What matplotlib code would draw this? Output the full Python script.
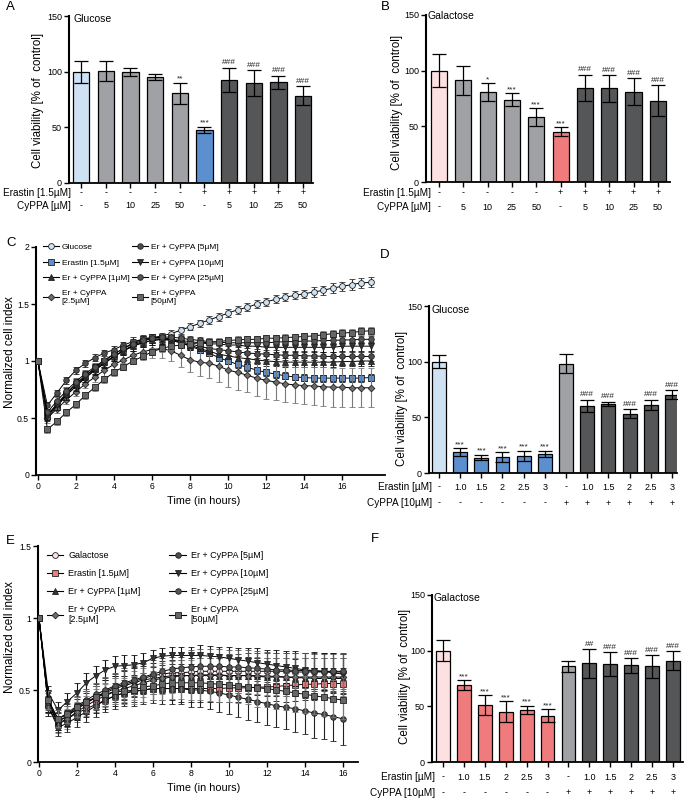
import matplotlib
matplotlib.use("Agg")
import matplotlib.pyplot as plt
from matplotlib.lines import Line2D

plt.rcParams['font.family'] = ['Liberation Sans', 'DejaVu Sans']

# ---------------- data ----------------
# Panel A (glucose)
A_erastin = ["-", "-", "-", "-", "-", "+", "+", "+", "+", "+"]
A_cyppa = ["-", "5", "10", "25", "50", "-", "5", "10", "25", "50"]
A_vals = [100, 101, 99.5, 95, 80.5, 47.5, 92.5, 90, 90.5, 78.5]
A_errs = [10, 9, 3.5, 2.5, 9.5, 3, 11, 11.5, 6, 8.5]
A_marks = ["", "", "", "", "**", "***", "###", "###", "###", "###"]

# Panel B (galactose)
B_erastin = A_erastin
B_cyppa = A_cyppa
B_vals = [100, 91.5, 81, 74, 58.5, 45, 84.5, 84, 81, 73]
B_errs = [15, 13, 8, 5.5, 8, 4, 12, 12, 12, 14]
B_marks = ["", "", "*", "***", "***", "***", "###", "###", "###", "###"]

# Panel D (glucose)
D_erastin = ["-", "1.0", "1.5", "2", "2.5", "3", "-", "1.0", "1.5", "2", "2.5", "3"]
D_cyppa = ["-", "-", "-", "-", "-", "-", "+", "+", "+", "+", "+", "+"]
D_vals = [100, 19, 13.8, 14, 15.5, 17, 98, 60.5, 62, 53.2, 61.2, 70.3]
D_errs = [6, 3.5, 2.5, 4.5, 4.5, 3, 8.5, 5.5, 2, 4, 4.5, 4]
D_marks = ["", "***", "***", "***", "***", "***", "", "###", "###", "###", "###", "###"]

# Panel F (galactose)
F_erastin = D_erastin
F_cyppa = D_cyppa
F_vals = [100, 69, 51.2, 45.3, 47, 41.7, 86, 88.5, 87.8, 86.8, 85.8, 90.8]
F_errs = [9.5, 4.5, 9, 9.5, 3.5, 6, 5, 13, 11, 6.5, 10, 8.5]
F_marks = ["", "***", "***", "***", "***", "***", "", "##", "###", "###", "###", "###"]

# Panel C (glucose, time course)
C_time = [0, 0.5, 1, 1.5, 2, 2.5, 3, 3.5, 4, 4.5, 5, 5.5, 6, 6.5, 7, 7.5, 8, 8.5,
          9, 9.5, 10, 10.5, 11, 11.5, 12, 12.5, 13, 13.5, 14, 14.5, 15, 15.5, 16,
          16.5, 17, 17.5]
C_glc = [1.00, 0.50, 0.60, 0.70, 0.78, 0.85, 0.92, 0.98, 1.04, 1.09, 1.14, 1.17,
         1.20, 1.22, 1.24, 1.27, 1.30, 1.33, 1.36, 1.39, 1.42, 1.45, 1.47, 1.50,
         1.52, 1.54, 1.56, 1.575, 1.59, 1.605, 1.62, 1.64, 1.655, 1.67, 1.685, 1.69]
C_glc_err = [0.0, 0.03, 0.03, 0.03, 0.03, 0.03, 0.03, 0.03, 0.03, 0.03, 0.03, 0.03,
             0.03, 0.03, 0.03, 0.03, 0.03, 0.03, 0.035, 0.035, 0.035, 0.035, 0.035,
             0.035, 0.035, 0.035, 0.035, 0.035, 0.035, 0.04, 0.04, 0.04, 0.04, 0.045,
             0.045, 0.045]
C_era = [1.00, 0.52, 0.62, 0.71, 0.80, 0.87, 0.94, 1.00, 1.06, 1.11, 1.16, 1.19,
         1.21, 1.21, 1.19, 1.16, 1.13, 1.10, 1.07, 1.03, 1.00, 0.97, 0.945, 0.92,
         0.90, 0.885, 0.87, 0.86, 0.855, 0.85, 0.85, 0.85, 0.85, 0.85, 0.85, 0.855]
C_era_err = [0.0, 0.03, 0.03, 0.03, 0.03, 0.03, 0.03, 0.03, 0.03, 0.03, 0.03, 0.03,
             0.03, 0.03, 0.03, 0.03, 0.03, 0.03, 0.03, 0.03, 0.03, 0.03, 0.03, 0.03,
             0.03, 0.03, 0.03, 0.03, 0.03, 0.03, 0.03, 0.03, 0.03, 0.03, 0.03, 0.03]
C_c1 = [1.00, 0.53, 0.62, 0.72, 0.80, 0.87, 0.93, 0.99, 1.04, 1.09, 1.13, 1.16,
        1.18, 1.19, 1.18, 1.16, 1.14, 1.11, 1.085, 1.06, 1.045, 1.03, 1.02, 1.01,
        1.00, 0.995, 0.99, 0.99, 0.99, 0.99, 0.99, 0.99, 0.995, 0.995, 1.00, 1.00]
C_c1_err = [0.0, 0.04, 0.04, 0.04, 0.04, 0.04, 0.04, 0.04, 0.04, 0.04, 0.04, 0.04,
            0.04, 0.04, 0.04, 0.04, 0.04, 0.04, 0.04, 0.04, 0.04, 0.04, 0.04, 0.04,
            0.04, 0.04, 0.04, 0.04, 0.04, 0.04, 0.04, 0.04, 0.04, 0.04, 0.04, 0.04]
C_c25 = [1.00, 0.50, 0.58, 0.66, 0.73, 0.80, 0.86, 0.92, 0.97, 1.01, 1.05, 1.08,
         1.10, 1.11, 1.09, 1.05, 1.01, 0.99, 0.98, 0.955, 0.92, 0.90, 0.875, 0.85,
         0.83, 0.815, 0.80, 0.79, 0.785, 0.78, 0.775, 0.77, 0.77, 0.765, 0.765, 0.765]
C_c25_err = [0.0, 0.04, 0.04, 0.04, 0.04, 0.04, 0.04, 0.05, 0.05, 0.05, 0.06, 0.06,
             0.07, 0.08, 0.09, 0.10, 0.11, 0.12, 0.13, 0.14, 0.15, 0.15, 0.15, 0.16,
             0.16, 0.16, 0.16, 0.16, 0.16, 0.17, 0.17, 0.17, 0.17, 0.17, 0.17, 0.17]
C_c5 = [1.00, 0.61, 0.72, 0.83, 0.92, 0.98, 1.03, 1.07, 1.10, 1.14, 1.17, 1.19,
        1.20, 1.20, 1.19, 1.17, 1.15, 1.13, 1.11, 1.10, 1.09, 1.08, 1.07, 1.065,
        1.06, 1.055, 1.05, 1.05, 1.045, 1.045, 1.04, 1.04, 1.04, 1.04, 1.04, 1.04]
C_c5_err = [0.0, 0.03, 0.03, 0.03, 0.03, 0.03, 0.03, 0.03, 0.03, 0.03, 0.04, 0.04,
            0.04, 0.04, 0.04, 0.04, 0.04, 0.04, 0.04, 0.04, 0.04, 0.04, 0.04, 0.04,
            0.04, 0.04, 0.04, 0.04, 0.04, 0.04, 0.04, 0.04, 0.04, 0.04, 0.04, 0.04]
C_c10 = [1.00, 0.52, 0.61, 0.70, 0.78, 0.86, 0.92, 0.98, 1.04, 1.09, 1.13, 1.16,
         1.18, 1.19, 1.19, 1.18, 1.17, 1.16, 1.15, 1.15, 1.14, 1.14, 1.13, 1.13,
         1.12, 1.12, 1.12, 1.12, 1.12, 1.12, 1.12, 1.12, 1.13, 1.13, 1.13, 1.13]
C_c10_err = [0.0, 0.04, 0.04, 0.04, 0.04, 0.04, 0.04, 0.04, 0.04, 0.04, 0.04, 0.04,
             0.04, 0.04, 0.04, 0.04, 0.04, 0.04, 0.04, 0.04, 0.04, 0.04, 0.04, 0.04,
             0.04, 0.04, 0.04, 0.04, 0.04, 0.04, 0.04, 0.04, 0.04, 0.04, 0.04, 0.04]
C_c25b = [1.00, 0.55, 0.65, 0.74, 0.82, 0.89, 0.95, 1.01, 1.06, 1.11, 1.15, 1.18,
          1.20, 1.21, 1.21, 1.20, 1.19, 1.18, 1.17, 1.165, 1.16, 1.16, 1.16, 1.16,
          1.16, 1.165, 1.17, 1.17, 1.175, 1.175, 1.18, 1.18, 1.185, 1.185, 1.19, 1.19]
C_c25b_err = [0.0, 0.03, 0.03, 0.03, 0.03, 0.03, 0.03, 0.03, 0.03, 0.03, 0.03, 0.03,
              0.03, 0.03, 0.03, 0.03, 0.03, 0.03, 0.03, 0.03, 0.03, 0.03, 0.03, 0.03,
              0.03, 0.03, 0.03, 0.03, 0.03, 0.03, 0.03, 0.03, 0.03, 0.03, 0.03, 0.03]
C_c50 = [1.00, 0.40, 0.47, 0.55, 0.62, 0.70, 0.77, 0.84, 0.90, 0.95, 1.00, 1.04,
         1.08, 1.11, 1.13, 1.14, 1.15, 1.16, 1.165, 1.17, 1.18, 1.185, 1.19, 1.19,
         1.20, 1.20, 1.205, 1.21, 1.215, 1.22, 1.23, 1.24, 1.245, 1.25, 1.26, 1.265]
C_c50_err = [0.0, 0.03, 0.03, 0.03, 0.03, 0.03, 0.03, 0.03, 0.03, 0.03, 0.03, 0.03,
             0.03, 0.03, 0.03, 0.03, 0.03, 0.03, 0.03, 0.03, 0.03, 0.03, 0.03, 0.03,
             0.03, 0.03, 0.03, 0.03, 0.03, 0.03, 0.03, 0.03, 0.035, 0.035, 0.035, 0.035]

# Panel E (galactose, time course)
E_time = [0, 0.5, 1, 1.5, 2, 2.5, 3, 3.5, 4, 4.5, 5, 5.5, 6, 6.5, 7, 7.5, 8, 8.5,
          9, 9.5, 10, 10.5, 11, 11.5, 12, 12.5, 13, 13.5, 14, 14.5, 15, 15.5, 16]
E_gal = [1.00, 0.42, 0.28, 0.32, 0.37, 0.41, 0.45, 0.49, 0.52, 0.54, 0.56, 0.58,
         0.60, 0.61, 0.62, 0.62, 0.625, 0.63, 0.63, 0.63, 0.63, 0.63, 0.63, 0.63,
         0.63, 0.63, 0.63, 0.625, 0.625, 0.625, 0.625, 0.625, 0.625]
E_gal_err = [0.0, 0.07, 0.07, 0.08, 0.08, 0.08, 0.09, 0.09, 0.09, 0.10, 0.10, 0.10,
             0.11, 0.11, 0.11, 0.11, 0.12, 0.12, 0.12, 0.12, 0.12, 0.12, 0.13, 0.13,
             0.13, 0.13, 0.13, 0.13, 0.13, 0.13, 0.13, 0.13, 0.13]
E_era = [1.00, 0.40, 0.27, 0.30, 0.34, 0.37, 0.40, 0.43, 0.46, 0.48, 0.49, 0.50,
         0.51, 0.51, 0.51, 0.51, 0.51, 0.51, 0.51, 0.51, 0.515, 0.515, 0.515, 0.52,
         0.52, 0.525, 0.53, 0.535, 0.54, 0.54, 0.545, 0.545, 0.545]
E_era_err = [0.0, 0.05, 0.05, 0.05, 0.05, 0.06, 0.06, 0.06, 0.07, 0.07, 0.07, 0.08,
             0.08, 0.08, 0.08, 0.09, 0.09, 0.09, 0.09, 0.09, 0.10, 0.10, 0.10, 0.10,
             0.10, 0.10, 0.11, 0.11, 0.11, 0.11, 0.11, 0.11, 0.11]
E_c1 = [1.00, 0.40, 0.28, 0.32, 0.37, 0.41, 0.45, 0.48, 0.51, 0.53, 0.55, 0.57,
        0.58, 0.59, 0.60, 0.60, 0.60, 0.60, 0.60, 0.60, 0.60, 0.60, 0.60, 0.595,
        0.59, 0.59, 0.59, 0.585, 0.585, 0.58, 0.58, 0.58, 0.58]
E_c1_err = [0.0, 0.06, 0.06, 0.07, 0.07, 0.08, 0.08, 0.09, 0.09, 0.10, 0.10, 0.10,
            0.11, 0.11, 0.11, 0.11, 0.12, 0.12, 0.12, 0.12, 0.12, 0.12, 0.13, 0.13,
            0.13, 0.13, 0.13, 0.13, 0.14, 0.14, 0.14, 0.14, 0.14]
E_c25 = [1.00, 0.38, 0.26, 0.30, 0.35, 0.39, 0.43, 0.46, 0.49, 0.51, 0.53, 0.55,
         0.57, 0.58, 0.59, 0.60, 0.60, 0.605, 0.605, 0.605, 0.60, 0.60, 0.60, 0.60,
         0.595, 0.595, 0.59, 0.59, 0.59, 0.59, 0.59, 0.59, 0.59]
E_c25_err = [0.0, 0.06, 0.06, 0.07, 0.07, 0.07, 0.08, 0.08, 0.09, 0.09, 0.10, 0.10,
             0.10, 0.11, 0.11, 0.11, 0.11, 0.12, 0.12, 0.12, 0.12, 0.12, 0.12, 0.13,
             0.13, 0.13, 0.13, 0.13, 0.13, 0.13, 0.13, 0.13, 0.13]
E_c5 = [1.00, 0.38, 0.24, 0.27, 0.31, 0.35, 0.39, 0.43, 0.46, 0.48, 0.49, 0.50,
        0.51, 0.51, 0.51, 0.51, 0.50, 0.50, 0.49, 0.48, 0.465, 0.45, 0.435, 0.42,
        0.405, 0.39, 0.38, 0.37, 0.355, 0.34, 0.33, 0.315, 0.30]
E_c5_err = [0.0, 0.06, 0.06, 0.06, 0.07, 0.07, 0.08, 0.08, 0.09, 0.09, 0.10, 0.10,
            0.10, 0.11, 0.11, 0.11, 0.12, 0.12, 0.12, 0.13, 0.13, 0.14, 0.14, 0.14,
            0.15, 0.15, 0.15, 0.16, 0.16, 0.17, 0.17, 0.17, 0.18]
E_c10 = [1.00, 0.48, 0.36, 0.42, 0.48, 0.55, 0.60, 0.64, 0.665, 0.67, 0.675, 0.69,
         0.72, 0.735, 0.74, 0.74, 0.74, 0.74, 0.735, 0.73, 0.72, 0.71, 0.70, 0.69,
         0.68, 0.67, 0.66, 0.65, 0.64, 0.635, 0.63, 0.62, 0.61]
E_c10_err = [0.0, 0.05, 0.06, 0.06, 0.07, 0.07, 0.07, 0.07, 0.07, 0.07, 0.07, 0.07,
             0.06, 0.06, 0.06, 0.06, 0.06, 0.07, 0.07, 0.07, 0.08, 0.08, 0.09, 0.10,
             0.10, 0.11, 0.11, 0.12, 0.12, 0.13, 0.13, 0.14, 0.14]
E_c25b = [1.00, 0.42, 0.30, 0.34, 0.39, 0.43, 0.47, 0.50, 0.53, 0.55, 0.57, 0.59,
          0.61, 0.63, 0.645, 0.655, 0.66, 0.665, 0.665, 0.665, 0.66, 0.66, 0.655,
          0.65, 0.645, 0.64, 0.64, 0.635, 0.635, 0.63, 0.63, 0.63, 0.63]
E_c25b_err = [0.0, 0.06, 0.06, 0.07, 0.07, 0.08, 0.08, 0.09, 0.09, 0.10, 0.10, 0.10,
              0.11, 0.11, 0.11, 0.11, 0.12, 0.12, 0.12, 0.12, 0.12, 0.12, 0.12, 0.12,
              0.12, 0.12, 0.12, 0.12, 0.12, 0.12, 0.12, 0.12, 0.12]
E_c50 = [1.00, 0.43, 0.30, 0.33, 0.38, 0.42, 0.45, 0.47, 0.49, 0.49, 0.50, 0.52,
         0.53, 0.54, 0.55, 0.55, 0.55, 0.55, 0.545, 0.54, 0.535, 0.53, 0.52, 0.515,
         0.51, 0.50, 0.49, 0.48, 0.47, 0.46, 0.45, 0.44, 0.43]
E_c50_err = [0.0, 0.06, 0.06, 0.06, 0.07, 0.07, 0.08, 0.08, 0.09, 0.09, 0.10, 0.10,
             0.10, 0.11, 0.11, 0.11, 0.12, 0.12, 0.12, 0.12, 0.12, 0.12, 0.12, 0.13,
             0.13, 0.13, 0.13, 0.13, 0.13, 0.13, 0.13, 0.13, 0.13]

C_labels = ["Glucose", "Erastin [1.5µM]", "Er + CyPPA [1µM]", "Er + CyPPA\n[2.5µM]",
            "Er + CyPPA [5µM]", "Er + CyPPA [10µM]", "Er + CyPPA [25µM]", "Er + CyPPA\n[50µM]"]
E_labels = ["Galactose"] + C_labels[1:]

# ---------------- styles ----------------
LBLUE, BLUE = '#cfe2f3', '#5b8fcd'
LPINK, RED = '#fde1e2', '#f07b7d'
GREY, DARK = '#a0a1a5', '#555658'

W, H = 685, 799
fig = plt.figure(figsize=(W / 100, H / 100), dpi=100)


def pax(l, t, r, b):
    return fig.add_axes([l / W, 1 - b / H, (r - l) / W, (b - t) / H])


def ftext(x, y, s, **kw):
    fig.text(x / W, 1 - y / H, s, **kw)


def style_axes(ax):
    for s in ('top', 'right'):
        ax.spines[s].set_visible(False)
    ax.spines['left'].set_linewidth(1.5)
    ax.spines['bottom'].set_linewidth(1.3)
    ax.tick_params(axis='both', direction='out', length=3.5, width=1.0,
                   labelsize=6.5, pad=1.5)


def bar_panel(box, xlim, vals, errs, colors, marks, row1, row2, rowy, rowlabs,
              rowlab_x):
    l, t, r, b = box
    ax = pax(l, t, r, b)
    x = list(range(len(vals)))
    ax.bar(x, vals, width=0.66, color=colors, edgecolor='black', linewidth=0.9,
           zorder=2)
    ax.errorbar(x, vals, yerr=errs, fmt='none', ecolor='black', elinewidth=0.9,
                capsize=5, capthick=0.9, zorder=3)
    for xi, v, e, m in zip(x, vals, errs, marks):
        if m:
            off = 0.0 if m.startswith('*') else 1.0
            ax.annotate(m, (xi, v + e), xytext=(0, off), textcoords='offset points',
                        ha='center', va='bottom', fontsize=6, color='#222222')
    ax.set_xlim(*xlim)
    ax.set_ylim(0, 150)
    ax.set_yticks([0, 50, 100, 150])
    ax.set_xticks(x)
    ax.set_xticklabels([])
    style_axes(ax)
    hpx = b - t
    for row, ypx in zip((row1, row2), rowy):
        for xi, s in zip(x, row):
            ax.text(xi, (b - ypx) / hpx, s, transform=ax.get_xaxis_transform(),
                    ha='center', va='center', fontsize=6.5)
    for s, ypx in zip(rowlabs, rowy):
        ftext(rowlab_x, ypx, s, ha='right', va='center', fontsize=7.2)
    return ax


# Panel A
bar_panel((69, 16, 313, 183), (-0.49, 9.4), A_vals, A_errs,
          [LBLUE] + [GREY] * 4 + [BLUE] + [DARK] * 4, A_marks,
          A_erastin, A_cyppa, (193, 206), ("Erastin [1.5µM]", "CyPPA [µM]"), 71)
# Panel B
bar_panel((426, 15, 670, 182), (-0.53, 9.5), B_vals, B_errs,
          [LPINK] + [GREY] * 4 + [RED] + [DARK] * 4, B_marks,
          B_erastin, B_cyppa, (193, 207), ("Erastin [1.5µM]", "CyPPA [µM]"), 431)
# Panel D
bar_panel((429, 306, 677, 473), (-0.47, 11.24), D_vals, D_errs,
          [LBLUE] + [BLUE] * 5 + [GREY] + [DARK] * 5, D_marks,
          D_erastin, D_cyppa, (487, 503), ("Erastin [µM]", "CyPPA [10µM]"), 432)
# Panel F
bar_panel((432, 595, 683, 762), (-0.53, 11.48), F_vals, F_errs,
          [LPINK] + [RED] * 5 + [GREY] + [DARK] * 5, F_marks,
          F_erastin, F_cyppa, (777, 793), ("Erastin [µM]", "CyPPA [10µM]"), 435)

# titles inside bar panels
ftext(74, 19, "Glucose", ha='left', va='center', fontsize=7.5)
ftext(428, 16, "Galactose", ha='left', va='center', fontsize=7.5)
ftext(432, 310, "Glucose", ha='left', va='center', fontsize=7.5)
ftext(433, 598, "Galactose", ha='left', va='center', fontsize=7.5)

ylab = "Cell viability [% of  control]"
ftext(38, 100, ylab, rotation=90, ha='center', va='center', fontsize=8.3)
ftext(397, 102, ylab, rotation=90, ha='center', va='center', fontsize=8.3)
ftext(402, 398, ylab, rotation=90, ha='center', va='center', fontsize=8.3)
ftext(405, 676, ylab, rotation=90, ha='center', va='center', fontsize=8.3)


def line_panel(box, xlim, ylim, yticks, t, series, labels, ctrl_color, era_color,
               leg_anchor, leg_kw):
    l, tp, r, b = box
    ax = pax(l, tp, r, b)
    styles = [
        dict(marker='o', mfc=ctrl_color, ms=4.2, ecol='#333333'),
        dict(marker='s', mfc=era_color, ms=4.0, ecol='#111111'),
        dict(marker='^', mfc='#333333', ms=4.0, ecol='#111111'),
        dict(marker='D', mfc='#6d6d6d', ms=3.4, ecol='#7a7a7a'),
        dict(marker='o', mfc='#4d4d4d', ms=4.0, ecol='#222222'),
        dict(marker='v', mfc='#333333', ms=4.0, ecol='#111111'),
        dict(marker='o', mfc='#555555', ms=4.0, ecol='#555555'),
        dict(marker='s', mfc='#666666', ms=4.2, ecol='#777777'),
    ]
    order = [3, 7, 6, 5, 4, 2, 1, 0]
    for i in order:
        y, e = series[i]
        st = styles[i]
        ax.errorbar(t, y, yerr=e, fmt='-', marker=st['marker'], ms=st['ms'],
                    mfc=st['mfc'], mec='#222222', mew=0.6, color='black', lw=0.7,
                    ecolor=st['ecol'], elinewidth=0.8, capsize=2.3, capthick=0.8,
                    zorder=3 + i * 0.1)
    handles = [Line2D([], [], color='black', lw=0.8, marker=st['marker'],
                      ms=st['ms'], mfc=st['mfc'], mec='#222222', mew=0.6)
               for st in styles]
    ax.legend(handles, labels, ncol=2, loc='upper left', bbox_to_anchor=leg_anchor,
              frameon=False, borderaxespad=0, borderpad=0, **leg_kw)
    ax.set_xlim(*xlim)
    ax.set_ylim(*ylim)
    ax.set_yticks(yticks)
    ax.set_yticklabels([f"{v:g}" for v in yticks])
    ax.set_xticks([0, 2, 4, 6, 8, 10, 12, 14, 16])
    style_axes(ax)
    ax.tick_params(labelsize=6.2)
    return ax


C_series = [(C_glc, C_glc_err), (C_era, C_era_err), (C_c1, C_c1_err),
            (C_c25, C_c25_err), (C_c5, C_c5_err), (C_c10, C_c10_err),
            (C_c25b, C_c25b_err), (C_c50, C_c50_err)]
line_panel((36, 247, 385, 475), (-0.1, 18.25), (0, 2), [0, 0.5, 1, 1.5, 2], C_time,
           C_series, C_labels, LBLUE, BLUE,
           ((43 - 36) / (385 - 36), (475 - 243) / (475 - 247)),
           dict(fontsize=6.0, handlelength=1.9, handletextpad=0.35,
                columnspacing=0.3, labelspacing=0.95))

E_series = [(E_gal, E_gal_err), (E_era, E_era_err), (E_c1, E_c1_err),
            (E_c25, E_c25_err), (E_c5, E_c5_err), (E_c10, E_c10_err),
            (E_c25b, E_c25b_err), (E_c50, E_c50_err)]
line_panel((38, 546, 358, 762), (-0.05, 16.8), (0, 1.5), [0, 0.5, 1, 1.5], E_time,
           E_series, E_labels, LPINK, RED,
           ((47 - 38) / (358 - 38), (762 - 551) / (762 - 546)),
           dict(fontsize=6.5, handlelength=1.8, handletextpad=0.55,
                columnspacing=3.2, labelspacing=1.0))

ftext(10, 352, "Normalized cell index", rotation=90, ha='center', va='center',
      fontsize=8.5)
ftext(10, 637, "Normalized cell index", rotation=90, ha='center', va='center',
      fontsize=8.5)
ftext(204, 501, "Time (in hours)", ha='center', va='center', fontsize=7.8)
ftext(204, 788, "Time (in hours)", ha='center', va='center', fontsize=7.8)

# panel letters
for s, x, y in [("A", 6, 1), ("B", 381, 1), ("C", 6, 237), ("D", 380, 249),
                ("E", 6, 535), ("F", 371, 533)]:
    ftext(x, y, s, ha='left', va='top', fontsize=9.5)

fig.savefig("out.png", dpi=100)
